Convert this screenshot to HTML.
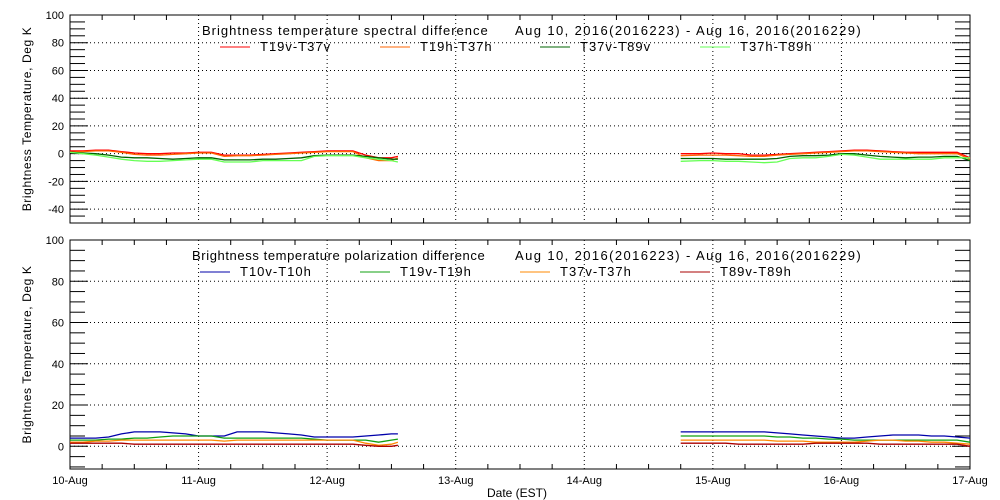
<!DOCTYPE html>
<html><head><meta charset="utf-8"><style>
body{margin:0;background:#fff;}
svg{display:block;font-family:"Liberation Sans",sans-serif;}
</style></head><body>
<svg id="c" width="1000" height="500" xmlns="http://www.w3.org/2000/svg"></svg>
<script>
const days = ["10-Aug","11-Aug","12-Aug","13-Aug","14-Aug","15-Aug","16-Aug","17-Aug"];
const t1 = [0,0.1,0.2,0.3,0.4,0.5,0.6,0.7,0.8,0.9,1.0,1.1,1.2,1.3,1.4,1.5,1.6,1.7,1.8,1.9,2.0,2.1,2.2,2.3,2.4,2.5,2.55];
const t2 = [4.75,4.9,5.0,5.1,5.2,5.3,5.4,5.5,5.6,5.7,5.8,5.9,6.0,6.1,6.2,6.3,6.4,6.5,6.6,6.7,6.8,6.9,7.0];
// top panel series (seg1 / seg2)
const r1=[2,2,2.5,2.5,1.5,0.5,0,0,0.5,0.5,1,1,-1,-1,-1,-0.5,0,0.5,1,1.5,2,2,2,-1,-3,-3,-2];
const r2=[0,0,0.5,0,0,-1,-1,-0.5,0,0.5,1,1.5,2,2.5,2.5,2,1.5,1,1,1,1,1,-3];
const o1=[1,1.5,2,2,1,-0.5,-1,-1,-0.5,0,0.5,0.5,-2,-1.5,-1.5,-1,-0.5,0,0.5,1,1.5,1.5,1.5,-3,-5,-5,-3];
const o2=[-1.5,-1,-1,-1,-1.5,-2,-2,-1,-0.5,0,0.5,1,1.5,2,2,1.5,1,0.5,0,0,0,0,-4];
const g1=[1,0.5,0,-1,-2.5,-3,-3,-3.5,-4,-3.5,-3,-3,-4.5,-4.5,-4.5,-4,-4,-3.5,-3,-1.5,-1,-1,-1,-2,-3,-4,-4];
const g2=[-3.5,-3.5,-3.5,-4,-4,-4,-4,-3.5,-2,-1.5,-1.5,-1,0,0,-1,-2,-2.5,-3,-2.5,-2.5,-2,-2,-5];
const l1=[1,0,-1,-2.5,-4,-5,-5.5,-5.5,-5,-4.5,-4,-4,-6,-6,-6,-5,-5,-5,-5,-2,-1.5,-1.5,-1.5,-3,-4,-5,-6];
const l2=[-5.5,-5,-5,-5.5,-5.5,-6,-6.5,-6,-3.5,-3,-3,-2,-0.5,-1,-2.5,-4,-4,-4,-4,-4,-3,-3,-3];
// bottom panel series
const b1=[4,4,4,4.5,6,7,7,7,6.5,6,5,5,5,7,7,7,6.5,6,5.5,4.5,4.5,4.5,4.5,5,5.5,6,6];
const b2=[7,7,7,7,7,7,7,6.5,6,5.5,5,4.5,4,4,4.5,5,5.5,5.5,5.5,5,5,4.5,4];
const gg1=[3,3,3,3.5,3.5,4,4,4.5,5,5,5,5,4,4,4,4,4,4,4,3.5,3,3,3,3,2,3,3.5];
const gg2=[5,5,5,5,5,5,5,4.5,4.5,4,4,3.5,3.5,3,3,3,3,3,3,3,3,3,2];
const oo1=[2,2,2.5,2.5,3,3,3,3,3,3,3,3,2.5,3,3,3,3,3,3,3,3,3,3,1.5,0.5,1,2];
const oo2=[3,3,3,3,3,3,3,2.5,2.5,2.5,2,2,2,2,2.5,3,3,2.5,2.5,2,2,1.5,1];
const dr1=[1.5,1.5,1.5,1.5,1.5,1,1,1,1,1,1,1,1,1,1,1,1,1,1,1,1,1,1,0.5,0,0,0.5];
const dr2=[1.5,1.5,1.5,1.5,1,1,1,1,1,1,1.5,1.5,1.5,1.5,1.5,1,1,1,1,1,1,1,0];

const NS="http://www.w3.org/2000/svg", svg=document.getElementById('c');
function mk(tag,attrs,parent){const e=document.createElementNS(NS,tag);for(const k in attrs)e.setAttribute(k,attrs[k]);(parent||svg).appendChild(e);return e;}
const X0=70,X1=970;
const xs=d=>X0+(X1-X0)*d/7;

function panel(cfg){
  const ys=v=>cfg.yb-(v-cfg.ymin)/(cfg.ymax-cfg.ymin)*(cfg.yb-cfg.yt);
  const g=mk('g',{});
  
  
  for(let v=Math.ceil(cfg.ymin/5)*5;v<=cfg.ymax;v+=5){
    const y=ys(v);
    if(v%20===0){
      if(v!==cfg.ymax){const gl=mk('line',{x1:X0,x2:X1,y1:y,y2:y,stroke:'#000','stroke-dasharray':'1,3'},g);
      }
      mk('line',{x1:X0,x2:X0+18,y1:y,y2:y,stroke:'#000'},g);
      mk('line',{x1:X1-18,x2:X1,y1:y,y2:y,stroke:'#000'},g);
      const tl=mk('text',{x:X0-6,y:y+4,'text-anchor':'end','font-size':11},g);tl.textContent=v;
      
    } else {
      mk('line',{x1:X0,x2:X0+15,y1:y,y2:y,stroke:'#000'},g);
      mk('line',{x1:X1-15,x2:X1,y1:y,y2:y,stroke:'#000'},g);
    }
  }
  for(let q=0;q<=28;q++){
    const x=xs(q/4);
    if(q%4===0){
      if(q>0&&q<28){const vl=mk('line',{x1:x,x2:x,y1:cfg.yt,y2:cfg.yb,stroke:'#000','stroke-dasharray':'1,3'},g);
      }
    } else {
      mk('line',{x1:x,x2:x,y1:cfg.yb,y2:cfg.yb-5,stroke:'#000'},g);
      mk('line',{x1:x,x2:x,y1:cfg.yt,y2:cfg.yt+5,stroke:'#000'},g);
    }
  }
  const fr=mk('rect',{x:X0,y:cfg.yt,width:X1-X0,height:cfg.yb-cfg.yt,fill:'none',stroke:'#000'},g);
  
  cfg.series.forEach(s=>{
    [[t1,s.a],[t2,s.b]].forEach(([t,v])=>{
      const p=mk('polyline',{points:t.map((d,i)=>xs(d).toFixed(1)+','+ys(v[i]).toFixed(1)).join(' '),fill:'none',stroke:s.c,'stroke-width':1.3},g);
      
      
    });
  });
  const tt=mk('text',{x:cfg.tx,y:cfg.yt+20,'font-size':13,'letter-spacing':cfg.ls},g);tt.textContent=cfg.title;
  
  const dt=mk('text',{x:515,y:cfg.yt+20,'font-size':13,'letter-spacing':1.4},g);dt.textContent='Aug 10, 2016(2016223) - Aug 16, 2016(2016229)';
  
  cfg.series.forEach((s,i)=>{
    const lx=cfg.lx+160*i, ly=cfg.yt+36;
    const le=mk('g',{},g);
    
    
    mk('line',{x1:lx,x2:lx+30,y1:ly-4,y2:ly-4,stroke:s.c,'stroke-width':1},le);
    const lt=mk('text',{x:lx+40,y:ly,'font-size':13,'letter-spacing':1},le);lt.textContent=s.n;
  });
  const yt=mk('text',{transform:`translate(31,${(cfg.yt+cfg.yb)/2}) rotate(-90)`,'text-anchor':'middle','font-size':12,'letter-spacing':0.6},g);
  yt.textContent=cfg.ytitle;
  
}
panel({name:'spectral-panel',yt:15,yb:223,ymin:-50,ymax:100,tx:202,lx:220,ls:1,title:'Brightness temperature spectral difference',ytitle:'Brightness Temperature, Deg K',
 series:[{n:'T19v-T37v',c:'#ff0000',a:r1,b:r2},{n:'T19h-T37h',c:'#ff6600',a:o1,b:o2},{n:'T37v-T89v',c:'#006400',a:g1,b:g2},{n:'T37h-T89h',c:'#66ff55',a:l1,b:l2}]});
panel({name:'polarization-panel',yt:240,yb:469,ymin:-11,ymax:100,tx:192,lx:200,ls:0.6,title:'Brightness temperature polarization difference',ytitle:'Brightnes Temperature, Deg K',
 series:[{n:'T10v-T10h',c:'#0000aa',a:b1,b:b2},{n:'T19v-T19h',c:'#10a010',a:gg1,b:gg2},{n:'T37v-T37h',c:'#ff8800',a:oo1,b:oo2},{n:'T89v-T89h',c:'#aa0000',a:dr1,b:dr2}]});
days.forEach((d,i)=>{
  const t=mk('text',{x:xs(i),y:484,'text-anchor':'middle','font-size':11});t.textContent=d;
  
  
});
const xt=mk('text',{x:517,y:497,'text-anchor':'middle','font-size':12});xt.textContent='Date (EST)';


</script>
</body></html>
